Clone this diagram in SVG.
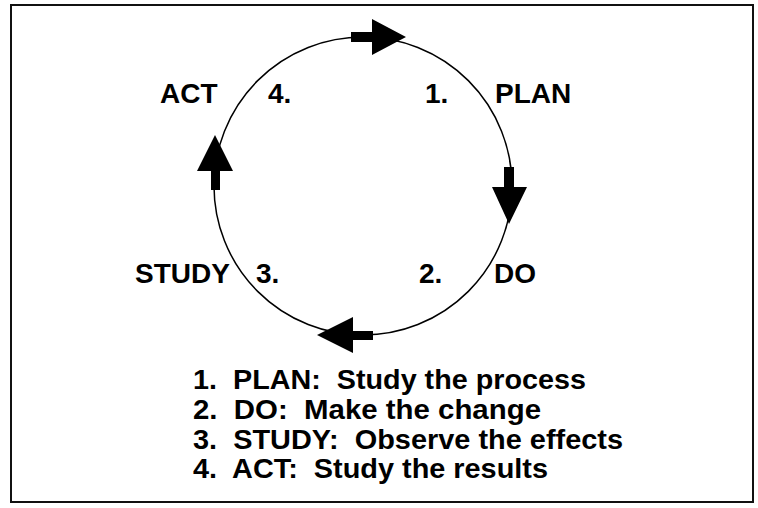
<svg xmlns="http://www.w3.org/2000/svg" width="758" height="508" viewBox="0 0 758 508">
<style>
.lbl{font-family:"Liberation Sans",Arial,Helvetica,sans-serif;font-weight:bold;font-size:28px;fill:#000;}
.lst{font-family:"Liberation Sans",Arial,Helvetica,sans-serif;font-weight:bold;font-size:27px;fill:#000;white-space:pre;}
.arr{fill:#000;stroke:none;}
</style>
<rect x="0" y="0" width="758" height="508" fill="#fff"/>
<rect x="11" y="5" width="742" height="497" fill="none" stroke="#111" stroke-width="2"/>
<g id="connectors">
<circle cx="363" cy="186" r="149" fill="none" stroke="#000" stroke-width="1.5"/>
<path class="arr" d="M351,32 H372 V19 L406,37 L372,55 V42 H351 Z"/>
<path class="arr" d="M504,167 H514 V187 H527 L509,224 L492,187 H504 Z"/>
<path class="arr" d="M373,331 V340 H353 V353 L317,335 L353,317 V331 Z"/>
<path class="arr" d="M211,190 V171 H197 L215,135 L233,171 H220 V190 Z"/>
</g>
<g id="node-plan">
<text class="lbl" x="425" y="103">1.</text>
<text class="lbl" x="495" y="103">PLAN</text>
</g>
<g id="node-do">
<text class="lbl" x="419" y="283">2.</text>
<text class="lbl" x="494" y="283">DO</text>
</g>
<g id="node-study">
<text class="lbl" x="135" y="283">STUDY</text>
<text class="lbl" x="256" y="283">3.</text>
</g>
<g id="node-act">
<text class="lbl" x="160" y="103">ACT</text>
<text class="lbl" x="268" y="103">4.</text>
</g>
<g id="legend">
<text class="lst" x="193" y="389" textLength="393" lengthAdjust="spacingAndGlyphs">1.  PLAN:  Study the process</text>
<text class="lst" x="193" y="419" textLength="348" lengthAdjust="spacingAndGlyphs">2.  DO:  Make the change</text>
<text class="lst" x="193" y="449" textLength="430" lengthAdjust="spacingAndGlyphs">3.  STUDY:  Observe the effects</text>
<text class="lst" x="193" y="478" textLength="355" lengthAdjust="spacingAndGlyphs">4.  ACT:  Study the results</text>
</g>
</svg>
